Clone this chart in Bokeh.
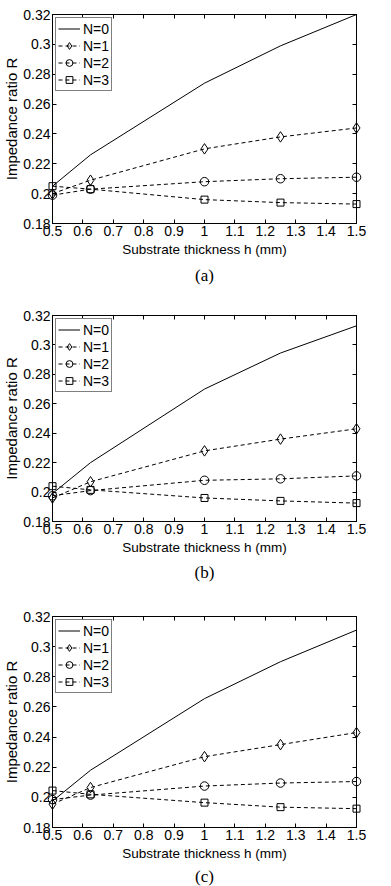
from bokeh.plotting import figure
from bokeh.layouts import column
from bokeh.models import (FixedTicker, LinearAxis, Legend, LegendItem, Title, Range1d,
                          CustomJSTickFormatter)
from bokeh.embed import file_html
from bokeh.resources import INLINE

# ---------------- data ----------------
thickness = [0.5, 0.625, 1.0, 1.25, 1.5]

a_n0 = [0.205, 0.226, 0.274, 0.299, 0.320]
a_n1 = [0.200, 0.209, 0.230, 0.238, 0.244]
a_n2 = [0.199, 0.203, 0.208, 0.210, 0.211]
a_n3 = [0.205, 0.203, 0.196, 0.194, 0.193]

b_n0 = [0.199, 0.220, 0.270, 0.2945, 0.313]
b_n1 = [0.196, 0.207, 0.228, 0.236, 0.243]
b_n2 = [0.1975, 0.201, 0.208, 0.209, 0.211]
b_n3 = [0.204, 0.2015, 0.196, 0.194, 0.1925]

c_n0 = [0.1975, 0.218, 0.2655, 0.290, 0.311]
c_n1 = [0.1955, 0.2065, 0.227, 0.235, 0.243]
c_n2 = [0.1985, 0.2015, 0.2075, 0.2095, 0.2105]
c_n3 = [0.2045, 0.202, 0.1965, 0.1935, 0.1925]

series_labels = ["N=0", "N=1", "N=2", "N=3"]
x_ticks = [0.5, 0.6, 0.7, 0.8, 0.9, 1.0, 1.1, 1.2, 1.3, 1.4, 1.5]
x_tick_labels = ["0.5", "0.6", "0.7", "0.8", "0.9", "1", "1.1", "1.2", "1.3", "1.4", "1.5"]
y_ticks = [0.18, 0.2, 0.22, 0.24, 0.26, 0.28, 0.3, 0.32]
y_tick_labels = ["0.18", "0.2", "0.22", "0.24", "0.26", "0.28", "0.3", "0.32"]
captions = ["(a)", "(b)", "(c)"]

FONT = "Liberation Sans"


def make_panel(series, caption, height, top, bottom, cap_standoff):
    p = figure(width=391, height=height, output_backend="svg", toolbar_location=None,
               x_range=Range1d(0.5, 1.5), y_range=Range1d(0.18, 0.32),
               min_border_left=52, min_border_right=35,
               min_border_top=top, min_border_bottom=bottom)
    p.xgrid.visible = False
    p.ygrid.visible = False
    p.outline_line_color = "black"
    p.outline_line_width = 1
    p.background_fill_color = "white"
    p.border_fill_color = "white"

    xt = FixedTicker(ticks=x_ticks, minor_ticks=[])
    yt = FixedTicker(ticks=y_ticks, minor_ticks=[])
    xo = {t: l for t, l in zip(x_ticks, x_tick_labels)}
    yo = {t: l for t, l in zip(y_ticks, y_tick_labels)}

    for ax in p.xaxis:
        ax.ticker = xt
        ax.major_label_overrides = xo
        ax.axis_label = "Substrate thickness h (mm)"
        ax.axis_label_text_font_size = "13.5px"
        ax.axis_label_standoff = 3
    for ax in p.yaxis:
        ax.ticker = yt
        ax.major_label_overrides = yo
        ax.axis_label = "Impedance ratio R"
        ax.axis_label_text_font_size = "15px"
        ax.axis_label_standoff = 0
    for ax in list(p.xaxis) + list(p.yaxis):
        ax.major_tick_in = 4
        ax.major_tick_out = 0
        ax.minor_tick_line_color = None
        ax.major_label_text_font = FONT
        ax.major_label_text_font_size = "14px"
        ax.major_label_text_color = "black"
        ax.major_label_standoff = 2
        ax.axis_label_text_font = FONT
        ax.axis_label_text_font_style = "normal"
        ax.axis_label_text_color = "black"
        ax.axis_line_color = "black"
        ax.major_tick_line_color = "black"

    blank = CustomJSTickFormatter(code="return ''")
    top_ax = LinearAxis(ticker=xt, formatter=blank, major_tick_in=4,
                        major_tick_out=0, minor_tick_line_color=None, major_label_standoff=0,
                        axis_line_color="black", major_tick_line_color="black")
    right_ax = LinearAxis(ticker=yt, formatter=blank, major_tick_in=4,
                          major_tick_out=0, minor_tick_line_color=None, major_label_standoff=0,
                          axis_line_color="black", major_tick_line_color="black")
    p.add_layout(top_ax, "above")
    p.add_layout(right_ax, "right")

    markers = [None, "diamond", "circle", "square"]
    sizes = [0, 10.5, 8.5, 7]
    items = []
    for i, ys in enumerate(series):
        if i == 0:
            r = p.line(thickness, ys, line_color="black", line_width=1)
            rs = [r]
        else:
            r = p.line(thickness, ys, line_color="black", line_width=1, line_dash="4 3")
            s = p.scatter(thickness, ys, marker=markers[i], size=sizes[i],
                          fill_color=None, line_color="black", line_width=1, level="overlay")
            rs = [r, s]
        items.append(LegendItem(label=series_labels[i], renderers=rs))

    leg = Legend(items=items, location="top_left", margin=3,
                 padding=2, spacing=0, label_height=17, glyph_height=17, glyph_width=22,
                 label_standoff=3, label_text_font=FONT, label_text_font_size="14px",
                 label_text_color="black", border_line_color="black", border_line_width=1,
                 background_fill_color="white", background_fill_alpha=1.0)
    p.add_layout(leg, "center")

    cap = Title(text=caption, align="center", offset=-7, standoff=cap_standoff,
                text_font="Liberation Serif", text_font_size="17px",
                text_font_style="normal", text_color="black")
    p.add_layout(cap, "below")
    return p


pa = make_panel([a_n0, a_n1, a_n2, a_n3], captions[0], 290, 14, 67, 8)
pb = make_panel([b_n0, b_n1, b_n2, b_n3], captions[1], 295, 25, 63, 7)
pc = make_panel([c_n0, c_n1, c_n2, c_n3], captions[2], 301, 31, 58, 2)

layout = column(pa, pb, pc, spacing=0)
open("out.html", "w").write(file_html(layout, INLINE))
